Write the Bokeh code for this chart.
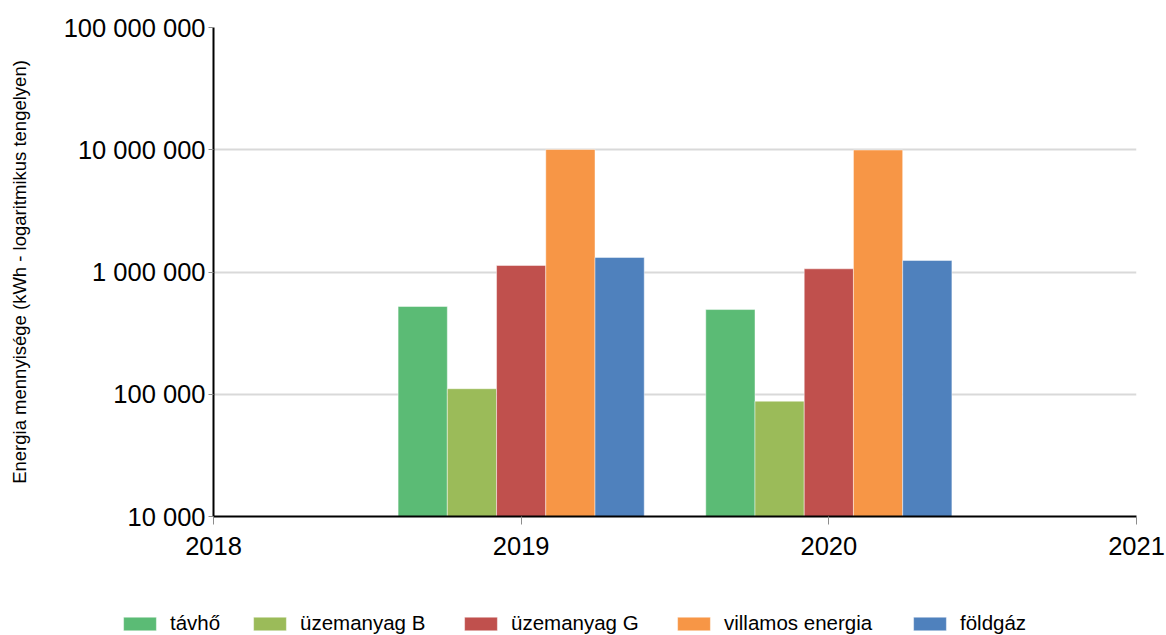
from bokeh.plotting import figure
from bokeh.models import ColumnDataSource, Range1d, FixedTicker, Legend, LegendItem
from bokeh.transform import dodge
from bokeh.embed import file_html
from bokeh.resources import INLINE

years = [2019, 2020]
series_names = ["távhő", "üzemanyag B", "üzemanyag G", "villamos energia", "földgáz"]
tavho = [522000, 493000]
uzemanyag_b = [111000, 87700]
uzemanyag_g = [1130000, 1062000]
villamos = [10050000, 9950000]
foldgaz = [1315000, 1242000]
colors = ["#5BBB75", "#9BBB59", "#C0504D", "#F79646", "#4F81BD"]
x_ticks = [2018, 2019, 2020, 2021]
y_ticks = [10000, 100000, 1000000, 10000000, 100000000]
y_tick_labels = ["10 000", "100 000", "1 000 000", "10 000 000", "100 000 000"]

FONT = "Liberation Sans"

source = ColumnDataSource(data=dict(
    x=years, tavho=tavho, uzemanyag_b=uzemanyag_b, uzemanyag_g=uzemanyag_g,
    villamos=villamos, foldgaz=foldgaz,
))
cols = ["tavho", "uzemanyag_b", "uzemanyag_g", "villamos", "foldgaz"]

p = figure(width=1166, height=580, output_backend="svg", toolbar_location=None,
           y_axis_type="log", x_range=Range1d(2018, 2021), y_range=Range1d(1e4, 1e8),
           min_border_left=213, min_border_right=30, min_border_top=27, min_border_bottom=64)
p.outline_line_color = None
p.background_fill_color = "white"
p.border_fill_color = "white"

bw = 0.16
offsets = [-2 * bw, -bw, 0.0, bw, 2 * bw]
for col, off, c in zip(cols, offsets, colors):
    p.vbar(x=dodge("x", off, range=None), top=col, bottom=1e4, width=bw, source=source,
           fill_color=c, line_color="white", line_alpha=0.45, line_width=1)

# axes
p.xaxis.ticker = FixedTicker(ticks=x_ticks)
p.xaxis.minor_tick_line_color = None
p.xaxis.major_tick_in = 0
p.xaxis.major_tick_out = 8
p.xaxis.major_tick_line_color = "#8c8c8c"
p.xaxis.axis_line_color = "black"
p.xaxis.axis_line_width = 2
p.xaxis.major_label_text_font = FONT
p.xaxis.major_label_text_font_size = "25.5px"
p.xaxis.major_label_text_color = "black"
p.xaxis.major_label_standoff = 12

p.yaxis.ticker = FixedTicker(ticks=y_ticks)
p.yaxis.major_label_overrides = {t: l for t, l in zip(y_ticks, y_tick_labels)}
p.yaxis.minor_tick_line_color = None
p.yaxis.major_tick_in = 0
p.yaxis.major_tick_out = 5
p.yaxis.major_tick_line_color = "#8c8c8c"
p.yaxis.axis_line_color = "black"
p.yaxis.axis_line_width = 2
p.yaxis.major_label_text_font = FONT
p.yaxis.major_label_text_font_size = "25.5px"
p.yaxis.major_label_text_color = "black"
p.yaxis.major_label_standoff = 3
p.yaxis.axis_label = "Energia mennyisége (kWh - logaritmikus tengelyen)"
p.yaxis.axis_label_text_font = FONT
p.yaxis.axis_label_text_font_size = "18.5px"
p.yaxis.axis_label_text_font_style = "normal"
p.yaxis.axis_label_text_color = "black"
p.yaxis.axis_label_standoff = 31

p.xgrid.grid_line_color = None
p.ygrid.grid_line_color = "#D9D9D9"
p.ygrid.grid_line_width = 2

# legend strip below the chart (separate root, so its frame spans the full width)
leg = figure(width=1166, height=55, output_backend="svg", toolbar_location=None,
             x_range=Range1d(0, 1), y_range=Range1d(0, 1),
             x_axis_location=None, y_axis_location=None,
             min_border_left=0, min_border_right=0, min_border_top=0, min_border_bottom=0)
leg.outline_line_color = None
leg.xgrid.grid_line_color = None
leg.ygrid.grid_line_color = None

legend_x = [119, 249, 460, 673, 909]  # horizontal placement of each legend entry (px)
for col, c, name, lx in zip(cols, colors, series_names, legend_x):
    # same data, lying outside this strip's ranges: only used for the legend swatch
    r = leg.vbar(x="x", top=col, width=bw, source=source, fill_color=c,
                 line_color="white", line_alpha=0.45, line_width=1)
    lg = Legend(items=[LegendItem(label=name, renderers=[r])],
                orientation="horizontal", location=(lx, 0),
                glyph_width=41, glyph_height=17, label_standoff=10, spacing=0,
                label_text_font=FONT, label_text_font_size="20.5px", label_text_color="black",
                padding=0, margin=0, border_line_color=None, background_fill_alpha=0)
    leg.add_layout(lg, "center")

open("out.html", "w").write(file_html([p, leg], INLINE))
